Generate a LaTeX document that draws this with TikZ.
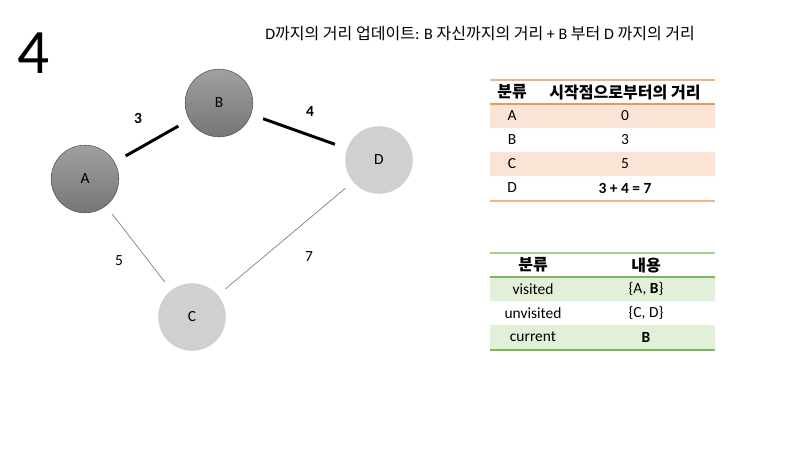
\documentclass[tikz,border=0pt]{standalone}
\usepackage{fontspec}
\setmainfont{Carlito}
\newfontfamily\kr{Noto Sans CJK KR}
\usetikzlibrary{calc,positioning}
\definecolor{nodetop}{RGB}{160,160,160}
\definecolor{nodebot}{RGB}{118,118,118}
\definecolor{nodeline}{RGB}{85,85,85}
\definecolor{todo}{RGB}{208,208,208}
\definecolor{orline}{RGB}{244,177,131}
\definecolor{orhead}{RGB}{240,150,90}
\definecolor{orfill}{RGB}{251,228,213}
\definecolor{grline}{RGB}{169,209,142}
\definecolor{grhead}{RGB}{125,182,90}
\definecolor{grfill}{RGB}{226,239,217}
\tikzset{
  done/.style={circle, minimum size=1.69cm, inner sep=0, draw=nodeline, thin,
               top color=nodetop, bottom color=nodebot, font=\fontsize{11}{13}\selectfont},
  open/.style={circle, minimum size=1.69cm, inner sep=0, fill=todo,
               font=\fontsize{11}{13}\selectfont},
  used/.style={line width=2.1pt, shorten <=9pt, shorten >=9pt},
  free/.style={gray, line width=0.5pt, shorten <=7pt, shorten >=7pt},
  cell/.style={inner sep=0, font=\fontsize{11}{13}\selectfont},
  head/.style={inner sep=0, font=\fontsize{11.4}{13}\selectfont\kr\bfseries},
  weight/.style={inner sep=0, font=\fontsize{11}{13}\selectfont\bfseries},
  rule/.style={line width=0.9pt}
}
\begin{document}
\begin{tikzpicture}[x=0.025cm,y=-0.025cm]
\useasboundingbox (0,0) rectangle (800,450);
% titre et phrase d'explication
\node[inner sep=0] (num) at (34,53) {\fontsize{45}{50}\selectfont 4};
\node[inner sep=0,anchor=west,font=\fontsize{11.4}{13}\selectfont] (expl) at (265,33)
     {D\kr 까지의 거리 업데이트\rm: B \kr 자신까지의 거리\rm{} + B \kr 부터\rm{} D \kr 까지의 거리};
% graphe
\node[done] (A) at (85,179) {A};
\node[done] (B) at (219,103) {B};
\node[open] (D) at (379,160) {D};
\node[open] (C) at (192,317) {C};
\draw[used] (A) -- (B);
\draw[used] (B) -- (D);
\draw[free] (A) -- (C);
\draw[free] (D) -- (C);
\node[weight] (wAB) at (138,118) {3};
\node[weight] (wBD) at (310,111) {4};
\node[cell] (wAC) at (119,261) {5};
\node[cell] (wDC) at (309,257) {7};
% tableau des distances
\fill[orfill] (490,104) rectangle (715,128) (490,152) rectangle (715,176);
\draw[rule,orline] (490,80) -- (715,80) (490,201) -- (715,201);
\draw[rule,orhead] (490,104) -- (715,104);
\node[head] (dh1) at (512,92) {분류};
\node[head] (dh2) at (625,92) {시작점으로부터의 거리};
\foreach \y/\n/\v in {116/A/0, 140/B/3, 164/C/5, 188/D/\textbf{3 + 4 = 7}}{
  \node[cell] (d\n) at (512,\y) {\n};
  \node[cell] (v\n) at (625,\y) {\v};
}
% tableau des sommets
\fill[grfill] (490,277) rectangle (715,301) (490,325) rectangle (715,349);
\draw[rule,grline] (490,253) -- (715,253);
\draw[rule,grhead] (490,277) -- (715,277) (490,350) -- (715,350);
\node[head] (sh1) at (533,265) {분류};
\node[head] (sh2) at (646,265) {내용};
\node[cell] (visited) at (533,289) {visited};
\node[cell] (unvisited) at (533,313) {unvisited};
\node[cell] (current) at (533,337) {current};
\node[cell] (setV) at (646,289) {\{A, \textbf{B}\}};
\node[cell] (setU) at (646,313) {\{C, D\}};
\node[cell] (setC) at (646,337) {\textbf{B}};
\end{tikzpicture}
\end{document}
